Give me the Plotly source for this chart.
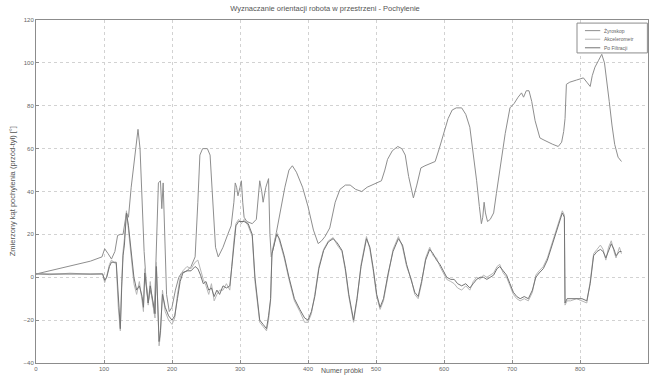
import plotly.graph_objects as go

# Orientacja robota - kąt pochylenia (przód-tył) w funkcji numeru próbki

# Żyroskop
probki_zyro = [0, 20, 40, 60, 80, 97, 101, 106, 111, 116, 120, 124, 128, 133, 136, 140, 146, 150,
               153, 156, 159, 162, 165, 168, 171, 174, 177, 180, 183, 185, 187, 189, 192, 196,
               200, 205, 210, 214, 222, 228, 234, 238, 241, 245, 252, 256, 260, 264, 268, 275,
               282, 287, 291, 293, 295, 297, 300, 302, 304, 306, 310, 318, 324, 327, 329, 332,
               334, 338, 342, 344, 346, 350, 354, 360, 366, 372, 377, 383, 392, 400, 408, 415,
               420, 425, 432, 440, 447, 455, 462, 470, 479, 487, 494, 500, 508, 513, 517, 524,
               532, 538, 543, 548, 555, 560, 566, 572, 580, 587, 593, 599, 606, 612, 618, 626,
               632, 638, 643, 648, 652, 655, 657, 659, 661, 664, 668, 673, 677, 681, 685, 690,
               697, 703, 709, 714, 717, 721, 725, 729, 734, 741, 747, 753, 760, 768, 773, 776,
               778, 780, 785, 795, 805, 810, 815, 818, 822, 827, 832, 836, 839, 843, 847, 851,
               856, 861]
kat_zyro = [1.5, 3, 4.5, 6, 7.5, 9.5, 13.3, 11, 8.5, 12, 19.5, 20, 20, 30, 28, 42, 60, 69,
            60, 35, 12, -2, -12, -6, -10, -17, 10, 44, 45, 32, 44, 20, -8, -16,
            -14, -6, 0, 2, 3, 5, 9.5, 35, 57, 60, 60, 57, 35, 14, 9.5, 14,
            20, 24, 35, 44, 42, 38, 42, 45, 35, 28, 26, 25, 27, 36, 45, 40,
            35, 42, 46, 20, 9.5, 15, 22, 31, 42, 50, 52, 49, 42, 33, 22, 15.7,
            17, 19, 23, 35, 41, 43, 43, 41, 40, 42, 43, 44, 45, 50, 55, 59,
            61, 60, 57, 47, 37, 43, 51, 52, 53, 54, 60, 67, 74, 78, 79, 79,
            76, 70, 58, 45, 33, 25, 28, 35, 30, 26, 27, 30, 39, 48, 56, 67,
            79, 81, 84, 86, 84, 87, 87, 82, 73, 65, 64, 63, 62, 61, 63, 68,
            74, 90, 91, 92, 93, 91, 89, 94, 98, 101, 104, 100, 93, 82, 71, 62,
            56, 54]

# Akcelerometr i wynik po filtracji (wspólne numery próbek)
probki = [0, 20, 50, 80, 98, 101, 104, 108, 111, 118, 121, 124, 126, 128, 130, 133, 136, 140,
          144, 148, 152, 156, 158, 160, 163, 165, 168, 171, 175, 177, 179, 181, 183, 186, 190,
          195, 200, 204, 208, 212, 216, 222, 228, 234, 238, 242, 246, 250, 254, 258, 262, 266,
          270, 275, 280, 285, 288, 291, 294, 298, 302, 306, 312, 318, 322, 326, 329, 334, 339,
          342, 345, 347, 350, 354, 358, 365, 372, 380, 388, 395, 400, 405, 410, 416, 423, 430,
          437, 443, 450, 455, 460, 467, 472, 478, 486, 491, 496, 501, 506, 511, 518, 525, 533,
          539, 545, 552, 557, 562, 567, 573, 579, 584, 589, 594, 599, 604, 610, 615, 620, 626,
          632, 638, 643, 648, 653, 658, 663, 668, 673, 678, 682, 687, 692, 697, 702, 707, 712,
          718, 724, 730, 735, 740, 746, 752, 758, 764, 768, 772, 774, 777, 778, 781, 786, 795,
          803, 810, 815, 820, 825, 830, 834, 838, 842, 846, 850, 853, 858, 861]
kat_filtr = [1.5, 1.5, 1.5, 1.5, 1.5, -1.4, 0, 5, 7, 7, -10, -24, -5, 10, 15, 30, 24, 12,
             0, -6, -4, -9, -14, 2, -5, -12, -4, -9, -17, 5, -10, -30, -25, -8, -14,
             -18, -20, -18, -10, -2, 2, 3, 3, 5, 4, 1, -3, -2, -6, -5, -9, -6,
             -8, -4, -5, -4, 5, 15, 24, 26, 26, 26, 25, 20, 0, -12, -20, -22, -24,
             -18, -10, 11, 15, 20, 18, 10, 0, -10, -15, -19, -20, -16, -9, 4, 12.5, 16.5,
             18, 16, 12.5, 4, -8, -20, -10, 5, 18, 14, 4, -8, -14, -10, 2, 12, 18,
             15, 6, -2, -7, -9, -2, 8, 13, 11, 8, 6, 3, 0, -1, -1, -3, -4,
             -3, -5, -3, -1, 0, 0, -1, 0, 1, 4, 5, 3, 1, -3, -7, -9, -10,
             -9, -10, -6, 0, 2, 4, 8, 14, 20, 24, 29, 30, 28, -12, -10, -10, -10,
             -10, -11, -3, 10, 12, 13, 12, 9, 12, 15.6, 13, 10, 12, 12]
kat_akcel = [1.8, 1.2, 1.9, 1.4, 1.7, -2.5, 0.5, 6, 8, 6, -14, -25, -2, 12, 18, 31, 22, 10,
             -3, -8, -2, -11, -16, 4, -7, -13, -2, -11, -19, 7, -12, -32, -27, -6, -16,
             -20, -22, -19, -8, 0, 3, 5, 4, 7, 8, 3, -1, -4, -8, -3, -11, -8,
             -6, -6, -3, -6, 7, 17, 25, 27, 25, 27, 24, 19, -2, -14, -21, -23, -25,
             -20, -11, 12, 16, 21, 17, 9, -1, -11, -16, -21, -21, -17, -8, 5, 13, 17,
             18.5, 15, 12, 3, -9, -21, -11, 6, 19, 13, 3, -9, -15, -11, 1, 13, 19,
             14, 5, -1, -8, -10, -3, 9, 14, 10, 9, 5, 2, -1, -2, -3, -5, -6,
             -4, -6, -2, 0, -1, 1, 0, 1, 2, 5, 6, 2, 0, -4, -8, -10, -11,
             -10, -11, -7, 1, 3, 5, 9, 15, 21, 25, 30, 31, 29, -13, -11, -11, -10,
             -11, -12, -2, 11, 13, 15, 13, 8, 14, 17, 12, 9, 14, 11]

serie = [
    ("Żyroskop", probki_zyro, kat_zyro, "#8e8e8e"),
    ("Akcelerometr", probki, kat_akcel, "#b6b6b6"),
    ("Po Filtracji", probki, kat_filtr, "#747474"),
]

fig = go.Figure()
for nazwa, xs, ys, kolor in serie:
    fig.add_trace(go.Scatter(x=xs, y=ys, mode="lines", name=nazwa,
                             line=dict(color=kolor, width=1), showlegend=False))

os_wspolna = dict(showline=True, linecolor="#8c8c8c", linewidth=1, mirror=True,
                  showgrid=True, gridcolor="#d2d2d2", griddash="dot", gridwidth=1,
                  zeroline=False, ticks="inside", ticklen=3, tickcolor="#8c8c8c",
                  tickfont=dict(family="Liberation Sans", size=6, color="#666666"))

fig.update_xaxes(range=[0, 900], dtick=100, tick0=0, **os_wspolna)
fig.update_yaxes(range=[-40, 120], dtick=20, tick0=-40, **os_wspolna)

# Legenda w prawym górnym rogu: ramka, próbki linii i opisy
leg_x0, leg_x1 = 0.884, 0.999
leg_y0, leg_y1 = 0.904, 0.991
leg_wiersze = [0.969, 0.944, 0.919]
ksztalty = [dict(type="rect", xref="paper", yref="paper", x0=leg_x0, x1=leg_x1,
                 y0=leg_y0, y1=leg_y1, fillcolor="white",
                 line=dict(color="#8c8c8c", width=1), layer="above")]
adnotacje = []
for (nazwa, _, _, kolor), yw in zip(serie, leg_wiersze):
    ksztalty.append(dict(type="line", xref="paper", yref="paper", x0=0.897, x1=0.922,
                         y0=yw, y1=yw, line=dict(color=kolor, width=1), layer="above"))
    adnotacje.append(dict(text=nazwa, xref="paper", yref="paper", x=0.925, y=yw,
                          xanchor="left", yanchor="middle", showarrow=False,
                          font=dict(size=5, color="#666666")))

adnotacje += [
    dict(text="Zmierzony kąt pochylenia (przód-tył) [°]", xref="paper", yref="paper",
         x=-0.038, y=0.5, xanchor="center", yanchor="middle", textangle=-90,
         showarrow=False, font=dict(size=7.5, color="#555555")),
    dict(text="Numer próbki", xref="paper", yref="paper",
         x=0.5, y=-0.022, xanchor="center", yanchor="middle",
         showarrow=False, font=dict(size=7, color="#555555")),
]

fig.update_layout(
    width=650, height=376,
    margin=dict(l=36, r=2, t=20, b=13),
    paper_bgcolor="white", plot_bgcolor="white",
    font=dict(family="Liberation Sans", color="#555555"),
    title=dict(text="Wyznaczanie orientacji robota w przestrzeni - Pochylenie",
               x=0.5, xanchor="center", y=0.978, yanchor="middle",
               font=dict(size=7.5, color="#555555")),
    shapes=ksztalty,
    annotations=adnotacje,
)

fig.write_html("out.html")
